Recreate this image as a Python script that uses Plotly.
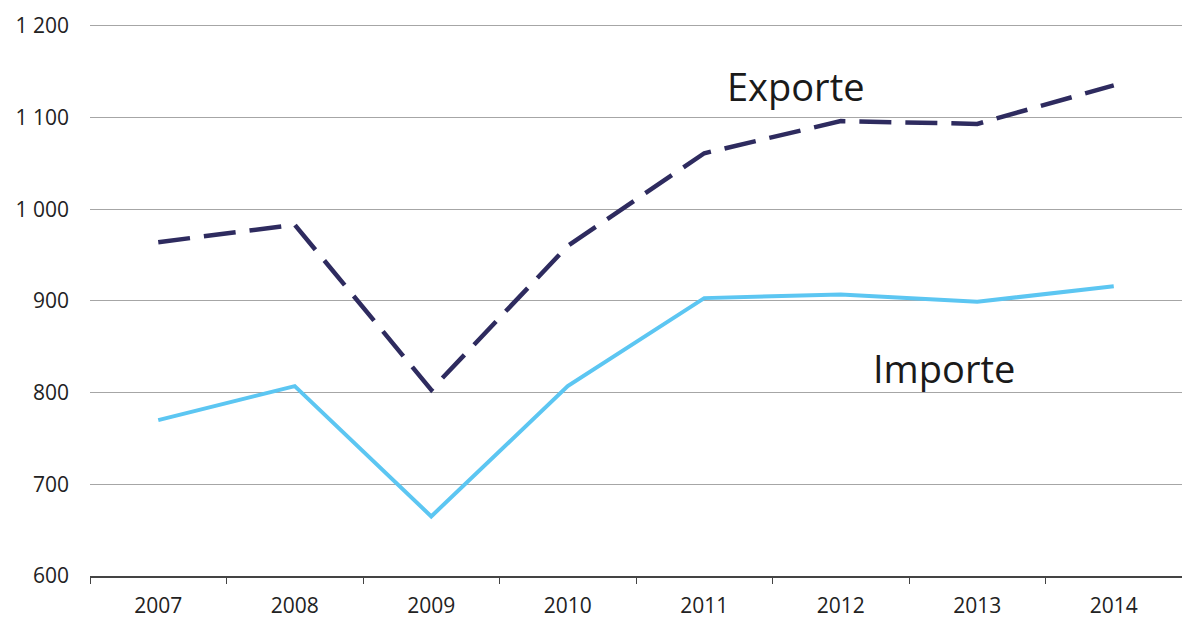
import plotly.graph_objects as go

years = ["2007", "2008", "2009", "2010", "2011", "2012", "2013", "2014"]
exporte = [964, 983, 803, 960, 1061, 1096, 1093, 1135]
importe = [770, 807, 665, 807, 903, 907, 899, 916]
y_ticks = [600, 700, 800, 900, 1000, 1100, 1200]
y_tick_labels = ["600", "700", "800", "900", "1 000", "1 100", "1 200"]

FONT = "Open Sans"

fig = go.Figure()
fig.add_trace(go.Scatter(
    x=years, y=importe, mode="lines", name="Importe",
    line=dict(color="#5cc6f2", width=4),
))
fig.add_trace(go.Scatter(
    x=years, y=exporte, mode="lines", name="Exporte",
    line=dict(color="#2e2b5f", width=4.5, dash="32px,14px"),
))

fig.add_annotation(x=4.67, y=1134, xref="x", yref="y", text="Exporte",
                   showarrow=False, font=dict(family=FONT, size=38, color="#1a1a1a"))
fig.add_annotation(x=5.76, y=827, xref="x", yref="y", text="Importe",
                   showarrow=False, font=dict(family=FONT, size=38, color="#1a1a1a"))

fig.update_layout(
    width=1182, height=619,
    margin=dict(l=90, r=0, t=23, b=43),
    paper_bgcolor="white", plot_bgcolor="white",
    showlegend=False,
    font=dict(family=FONT, size=22, color="#222"),
)
fig.update_xaxes(
    type="category", range=[-0.5, 7.5],
    showgrid=False, showline=True, linecolor="#444", linewidth=1.5,
    ticks="outside", tickson="boundaries", ticklen=6, tickcolor="#444",
    ticklabelstandoff=10,
    tickfont=dict(family=FONT, size=21, color="#222"),
)
fig.update_yaxes(
    range=[600, 1203], tickvals=y_ticks, ticktext=y_tick_labels,
    showgrid=True, gridcolor="#a6a6a6", gridwidth=1.2,
    zeroline=False, showline=False, ticks="", ticklabelstandoff=20,
    tickfont=dict(family=FONT, size=21, color="#222"),
)

fig.write_html(
    "out.html",
    config={"displayModeBar": False},
    post_script="document.body.style.margin='0';document.body.style.overflow='hidden';",
)
